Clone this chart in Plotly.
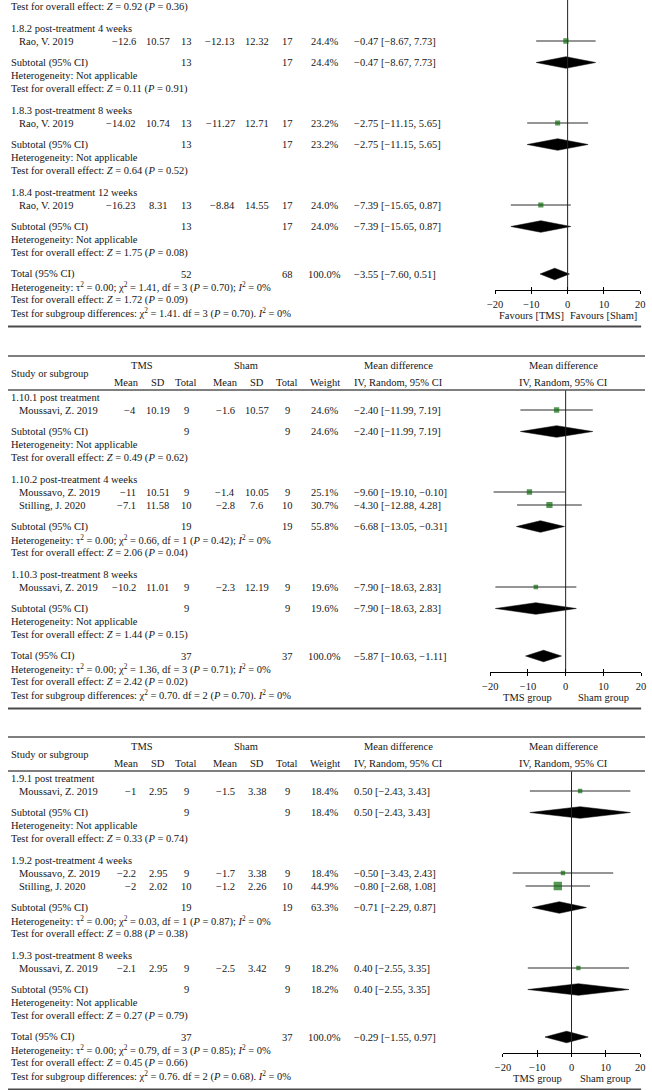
import plotly.graph_objects as go

W, H = 652, 1090
FONT = "Liberation Serif"
FS = 10.5
INK = "#161616"
GREEN = "#0e6b0e"

# ---------------- panel A: 1.8.x (top of the page, header cropped off) ----------------
a_lead = (0.92, 0.36)  # overall-effect line left over from 1.8.1
a_groups = ["1.8.2 post-treatment 4 weeks", "1.8.3 post-treatment 8 weeks", "1.8.4 post-treatment 12 weeks"]
a_study_group = [0, 1, 2]
a_study = ["Rao, V. 2019", "Rao, V. 2019", "Rao, V. 2019"]
a_tms_mean = [-12.6, -14.02, -16.23]
a_tms_sd = [10.57, 10.74, 8.31]
a_tms_n = [13, 13, 13]
a_sham_mean = [-12.13, -11.27, -8.84]
a_sham_sd = [12.32, 12.71, 14.55]
a_sham_n = [17, 17, 17]
a_weight = [24.4, 23.2, 24.0]
a_md = [-0.47, -2.75, -7.39]
a_lo = [-8.67, -11.15, -15.65]
a_hi = [7.73, 5.65, 0.87]
a_sub_tms_n = [13, 13, 13]
a_sub_sham_n = [17, 17, 17]
a_sub_weight = [24.4, 23.2, 24.0]
a_sub_md = [-0.47, -2.75, -7.39]
a_sub_lo = [-8.67, -11.15, -15.65]
a_sub_hi = [7.73, 5.65, 0.87]
a_sub_het = [None, None, None]
a_sub_z = [0.11, 0.64, 1.75]
a_sub_p = [0.91, 0.52, 0.08]
a_tot_n = [52, 68]
a_tot_ci = [-3.55, -7.60, 0.51]
a_tot_het = (0.00, 1.41, 3, 0.70, 0)
a_tot_z = (1.72, 0.09)
a_subgroup = (1.41, 3, 0.70, 0)
a_ticks = [-20, -10, 0, 10, 20]
a_tick_text = ["−20", "−10", "0", "10", "20"]
a_favours = ["Favours [TMS]", "Favours [Sham]"]
a_fav_x = [-10, 10]

# ---------------- panel B: 1.10.x ----------------
b_groups = ["1.10.1 post treatment", "1.10.2 post-treatment 4 weeks", "1.10.3 post-treatment 8 weeks"]
b_study_group = [0, 1, 1, 2]
b_study = ["Moussavi, Z. 2019", "Moussavo, Z. 2019", "Stilling, J. 2020", "Moussavi, Z. 2019"]
b_tms_mean = [-4, -11, -7.1, -10.2]
b_tms_sd = [10.19, 10.51, 11.58, 11.01]
b_tms_n = [9, 9, 10, 9]
b_sham_mean = [-1.6, -1.4, -2.8, -2.3]
b_sham_sd = [10.57, 10.05, 7.6, 12.19]
b_sham_n = [9, 9, 10, 9]
b_weight = [24.6, 25.1, 30.7, 19.6]
b_md = [-2.40, -9.60, -4.30, -7.90]
b_lo = [-11.99, -19.10, -12.88, -18.63]
b_hi = [7.19, -0.10, 4.28, 2.83]
b_sub_tms_n = [9, 19, 9]
b_sub_sham_n = [9, 19, 9]
b_sub_weight = [24.6, 55.8, 19.6]
b_sub_md = [-2.40, -6.68, -7.90]
b_sub_lo = [-11.99, -13.05, -18.63]
b_sub_hi = [7.19, -0.31, 2.83]
b_sub_het = [None, (0.00, 0.66, 1, 0.42, 0), None]
b_sub_z = [0.49, 2.06, 1.44]
b_sub_p = [0.62, 0.04, 0.15]
b_tot_n = [37, 37]
b_tot_ci = [-5.87, -10.63, -1.11]
b_tot_het = (0.00, 1.36, 3, 0.71, 0)
b_tot_z = (2.42, 0.02)
b_subgroup = (0.70, 2, 0.70, 0)
b_ticks = [-20, -10, 0, 10, 20]
b_tick_text = ["−20", "−10", "0", "10", "20"]
b_favours = ["TMS group", "Sham group"]
b_fav_x = [-10, 10]

# ---------------- panel C: 1.9.x ----------------
c_groups = ["1.9.1 post treatment", "1.9.2 post-treatment 4 weeks", "1.9.3 post-treatment 8 weeks"]
c_study_group = [0, 1, 1, 2]
c_study = ["Moussavi, Z. 2019", "Moussavo, Z. 2019", "Stilling, J. 2020", "Moussavi, Z. 2019"]
c_tms_mean = [-1, -2.2, -2, -2.1]
c_tms_sd = [2.95, 2.95, 2.02, 2.95]
c_tms_n = [9, 9, 10, 9]
c_sham_mean = [-1.5, -1.7, -1.2, -2.5]
c_sham_sd = [3.38, 3.38, 2.26, 3.42]
c_sham_n = [9, 9, 10, 9]
c_weight = [18.4, 18.4, 44.9, 18.2]
c_md = [0.50, -0.50, -0.80, 0.40]
c_lo = [-2.43, -3.43, -2.68, -2.55]
c_hi = [3.43, 2.43, 1.08, 3.35]
c_sub_tms_n = [9, 19, 9]
c_sub_sham_n = [9, 19, 9]
c_sub_weight = [18.4, 63.3, 18.2]
c_sub_md = [0.50, -0.71, 0.40]
c_sub_lo = [-2.43, -2.29, -2.55]
c_sub_hi = [3.43, 0.87, 3.35]
c_sub_het = [None, (0.00, 0.03, 1, 0.87, 0), None]
c_sub_z = [0.33, 0.88, 0.27]
c_sub_p = [0.74, 0.38, 0.79]
c_tot_n = [37, 37]
c_tot_ci = [-0.29, -1.55, 0.97]
c_tot_het = (0.00, 0.79, 3, 0.85, 0)
c_tot_z = (0.45, 0.66)
c_subgroup = (0.76, 2, 0.68, 0)
# in the source the marks of this panel sit on a -4..4 scale, but the printed labels read -20..20
c_ticks = [-4, -2, 0, 2, 4]
c_tick_text = ["−20", "−10", "0", "10", "20"]
c_favours = ["TMS group", "Sham group"]
c_fav_x = [-2, 2]

# column x positions (px)
X_GRP, X_STUDY = 2, 10
X_MEAN, X_SD, X_N = 132, 153, 182
X_SMEAN, X_SSD, X_SN = 233, 254, 285
X_W, X_CI = 323, 352
PITCH, GAP = 13, 8.5

fig = go.Figure()
ann = []
shapes = []


def num(v):
    return f"{v:g}".replace("-", "−")


def ci_text(m, lo, hi):
    return f"{m:.2f} [{lo:.2f}, {hi:.2f}]".replace("-", "−")


def txt(x, y, s, anchor="left", xref="x"):
    ann.append(dict(x=x, y=y, xref=xref, yref="y", text=s, showarrow=False,
                    xanchor=anchor, yanchor="middle", borderpad=0,
                    font=dict(family=FONT, size=FS, color=INK)))


def hline(y, x0, x1, w, color="#555555"):
    shapes.append(dict(type="line", xref="x", yref="y", x0=x0, x1=x1, y0=y, y1=y,
                       line=dict(color=color, width=w)))


def het_text(h):
    if h is None:
        return "Heterogeneity: Not applicable"
    t, c, d, p, i = h
    return (f"Heterogeneity: τ<sup>2</sup> = {t:.2f}; χ<sup>2</sup> = {c:.2f}, df = {d} "
            f"(<i>P</i> = {p:.2f}); <i>I</i><sup>2</sup> = {i}%")


def z_text(z, p):
    return f"Test for overall effect: <i>Z</i> = {z:.2f} (<i>P</i> = {p:.2f})"


def diamond(xa, y, m, lo, hi, h=5.8):
    fig.add_trace(go.Scatter(x=[lo, m, hi, m, lo], y=[y, y - h, y, y + h, y], xaxis=xa, yaxis="y",
                             mode="lines", fill="toself", fillcolor="black",
                             line=dict(width=0.5, color="black"), hoverinfo="skip", showlegend=False))


def panel(xa, top, groups, sg, names, tm, tsd, tn, sm, ssd, sn, wt, md, lo, hi,
          s_tn, s_sn, s_w, s_md, s_lo, s_hi, s_het, s_z, s_p,
          tot_n, tot_ci, tot_het, tot_z, subgroup, favours, fav_x, zero_top):
    y = top
    sq_x, sq_y, sq_s = [], [], []
    for g, label in enumerate(groups):
        txt(X_GRP, y, label)
        for k in [i for i, gi in enumerate(sg) if gi == g]:
            y += PITCH
            txt(X_STUDY, y, names[k])
            txt(X_MEAN, y, num(tm[k]), "right")
            txt(X_SD, y, num(tsd[k]), "center")
            txt(X_N, y, num(tn[k]), "center")
            txt(X_SMEAN, y, num(sm[k]), "right")
            txt(X_SSD, y, num(ssd[k]), "center")
            txt(X_SN, y, num(sn[k]), "center")
            txt(X_W, y, f"{wt[k]:.1f}%", "center")
            txt(X_CI, y, ci_text(md[k], lo[k], hi[k]))
            fig.add_trace(go.Scatter(x=[lo[k], hi[k]], y=[y, y], xaxis=xa, yaxis="y", mode="lines",
                                     line=dict(color="#2a2a2a", width=1), hoverinfo="skip",
                                     showlegend=False))
            sq_x.append(md[k])
            sq_y.append(y)
            sq_s.append(1.6 + 0.15 * wt[k])
        y += PITCH + GAP
        txt(X_GRP, y, "Subtotal (95% CI)")
        txt(X_N, y, num(s_tn[g]), "center")
        txt(X_SN, y, num(s_sn[g]), "center")
        txt(X_W, y, f"{s_w[g]:.1f}%", "center")
        txt(X_CI, y, ci_text(s_md[g], s_lo[g], s_hi[g]))
        diamond(xa, y, s_md[g], s_lo[g], s_hi[g])
        y += PITCH
        txt(X_GRP, y, het_text(s_het[g]))
        y += PITCH
        txt(X_GRP, y, z_text(s_z[g], s_p[g]))
        y += PITCH + GAP
    txt(X_GRP, y, "Total (95% CI)")
    txt(X_N, y, num(tot_n[0]), "center")
    txt(X_SN, y, num(tot_n[1]), "center")
    txt(X_W, y, "100.0%", "center")
    txt(X_CI, y, ci_text(*tot_ci))
    diamond(xa, y, *tot_ci)
    y += PITCH
    txt(X_GRP, y, het_text(tot_het))
    axis_y = y + 3
    y += PITCH
    txt(X_GRP, y, z_text(*tot_z))
    y += PITCH
    c, d, p, i = subgroup
    txt(X_GRP, y, f"Test for subgroup differences: χ<sup>2</sup> = {c:.2f}. df = {d} "
                  f"(<i>P</i> = {p:.2f}). <i>I</i><sup>2</sup> = {i}%")
    hline(y + 13.5, 0, 646, 2.2, "#4a4a4a")
    # null line
    fig.add_trace(go.Scatter(x=[0, 0], y=[zero_top, axis_y], xaxis=xa, yaxis="y", mode="lines",
                             line=dict(color="#222222", width=1), hoverinfo="skip", showlegend=False))
    fig.add_trace(go.Scatter(x=sq_x, y=sq_y, xaxis=xa, yaxis="y", mode="markers",
                             marker=dict(symbol="square", size=sq_s, color=GREEN, line=dict(width=0)),
                             hoverinfo="skip", showlegend=False))
    for lab, fx in zip(favours, fav_x):
        txt(fx, axis_y + 25, lab, "center", xref=xa)
    return axis_y


def header(top):
    hline(top - 41, 0, 650, 1.6)
    hline(top - 7, 0, 650, 1.3)
    txt(X_GRP, top - 23.5, "Study or subgroup")
    txt(137, top - 32, "TMS", "center")
    txt(243, top - 32, "Sham", "center")
    txt(398, top - 32, "Mean difference", "center")
    txt(567, top - 32, "Mean difference", "center")
    for x, s in [(121, "Mean"), (X_SD, "SD"), (X_N, "Total"), (222, "Mean"), (X_SSD, "SD"),
                 (X_SN, "Total"), (X_W, "Weight"), (398, "IV, Random, 95% CI"),
                 (567, "IV, Random, 95% CI")]:
        txt(x, top - 15, s, "center")


# panel A
A_TOP = 28
txt(X_GRP, A_TOP - 21, z_text(*a_lead))
ay = panel("x2", A_TOP, a_groups, a_study_group, a_study, a_tms_mean, a_tms_sd, a_tms_n,
           a_sham_mean, a_sham_sd, a_sham_n, a_weight, a_md, a_lo, a_hi,
           a_sub_tms_n, a_sub_sham_n, a_sub_weight, a_sub_md, a_sub_lo, a_sub_hi,
           a_sub_het, a_sub_z, a_sub_p, a_tot_n, a_tot_ci, a_tot_het, a_tot_z, a_subgroup,
           a_favours, a_fav_x, 0)

# panel B
B_TOP = 397
header(B_TOP)
by = panel("x3", B_TOP, b_groups, b_study_group, b_study, b_tms_mean, b_tms_sd, b_tms_n,
           b_sham_mean, b_sham_sd, b_sham_n, b_weight, b_md, b_lo, b_hi,
           b_sub_tms_n, b_sub_sham_n, b_sub_weight, b_sub_md, b_sub_lo, b_sub_hi,
           b_sub_het, b_sub_z, b_sub_p, b_tot_n, b_tot_ci, b_tot_het, b_tot_z, b_subgroup,
           b_favours, b_fav_x, B_TOP - 7)

# panel C
C_TOP = 778
header(C_TOP)
cy = panel("x4", C_TOP, c_groups, c_study_group, c_study, c_tms_mean, c_tms_sd, c_tms_n,
           c_sham_mean, c_sham_sd, c_sham_n, c_weight, c_md, c_lo, c_hi,
           c_sub_tms_n, c_sub_sham_n, c_sub_weight, c_sub_md, c_sub_lo, c_sub_hi,
           c_sub_het, c_sub_z, c_sub_p, c_tot_n, c_tot_ci, c_tot_het, c_tot_z, c_subgroup,
           c_favours, c_fav_x, C_TOP - 7)


def forest_axis(x0, x1, rng, vals, labels, axis_y, ticks, overlay=None):
    d = dict(domain=[x0 / W, x1 / W], range=rng, anchor="free", position=1 - axis_y / H,
             tickmode="array", tickvals=vals, ticks=ticks, ticklen=3, tickwidth=1,
             tickcolor="black", showgrid=False, zeroline=False, fixedrange=True)
    if overlay:
        d.update(overlaying=overlay, showline=False, showticklabels=False)
    else:
        d.update(showline=True, linecolor="black", linewidth=1, ticktext=labels,
                 ticklabelstandoff=1, tickfont=dict(family=FONT, size=FS, color=INK))
    return d


# empty traces so the overlay tick axes get drawn
for xa in ["x5", "x6", "x7"]:
    fig.add_trace(go.Scatter(x=[None], y=[None], xaxis=xa, yaxis="y", showlegend=False))

fig.update_layout(
    width=W, height=H, margin=dict(l=0, r=0, t=0, b=0),
    paper_bgcolor="white", plot_bgcolor="rgba(0,0,0,0)", showlegend=False,
    xaxis=dict(range=[0, W], domain=[0, 1], visible=False, fixedrange=True),
    yaxis=dict(range=[H, 0], domain=[0, 1], visible=False, fixedrange=True),
    xaxis2=forest_axis(497, 645, [-20, 20], a_ticks, a_tick_text, ay, "outside"),
    xaxis3=forest_axis(492, 646, [-20, 20], b_ticks, b_tick_text, by, "outside"),
    xaxis4=forest_axis(505, 645, [-4, 4], c_ticks, c_tick_text, cy, "outside"),
    xaxis5=forest_axis(497, 645, [-20, 20], a_ticks, None, ay, "inside", "x2"),
    xaxis6=forest_axis(492, 646, [-20, 20], b_ticks, None, by, "inside", "x3"),
    xaxis7=forest_axis(505, 645, [-4, 4], c_ticks, None, cy, "inside", "x4"),
    annotations=ann, shapes=shapes,
)

# drop the browser's default 8px body margin so the figure sits at the page corner
fig.write_html("out.html", config={"displayModeBar": False},
               post_script="document.body.style.margin='0';")
